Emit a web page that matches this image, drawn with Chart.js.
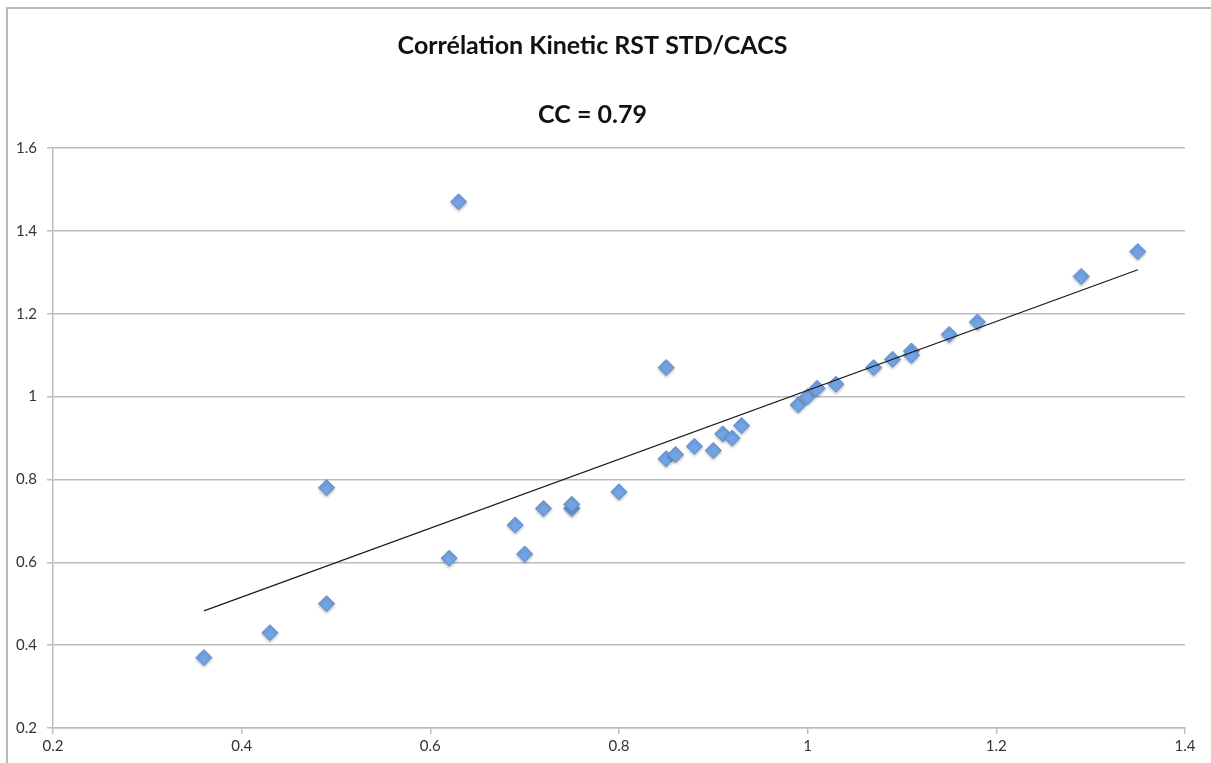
<!DOCTYPE html>
<html lang="fr">
<head>
<meta charset="utf-8">
<title>Corrélation Kinetic RST STD/CACS</title>
<script src="https://cdn.jsdelivr.net/npm/chart.js@4.4.1/dist/chart.umd.min.js"></script>
<style>
  html, body { margin: 0; padding: 0; background: #ffffff; }
  .chart-wrap { position: relative; width: 1211px; height: 763px; overflow: hidden; }
  .chart-frame {
    position: absolute; left: 6px; top: 7px; width: 1300px; height: 900px;
    border-left: 2px solid #b8b8b8; border-top: 2px solid #b8b8b8;
    pointer-events: none;
  }
  #kinetic-chart { position: absolute; left: 0; top: 0; }
</style>
</head>
<body>
<div class="chart-wrap">
  <canvas id="kinetic-chart" width="1211" height="763"></canvas>
  <div class="chart-frame"></div>
</div>
<script>
const TITLE = 'Corrélation Kinetic RST STD/CACS';
const SUBTITLE = 'CC = 0.79';

// valeurs (x = Kinetic RST STD, y = CACS)
const kineticValues = [
  0.36, 0.43, 0.49, 0.49, 0.62, 0.63, 0.69, 0.70, 0.72, 0.75, 0.75,
  0.80, 0.85, 0.85, 0.86, 0.88, 0.90, 0.91, 0.92, 0.93, 0.99, 1.00,
  1.01, 1.03, 1.07, 1.09, 1.11, 1.11, 1.15, 1.18, 1.29, 1.35
];
const cacsValues = [
  0.37, 0.43, 0.78, 0.50, 0.61, 1.47, 0.69, 0.62, 0.73, 0.73, 0.74,
  0.77, 1.07, 0.85, 0.86, 0.88, 0.87, 0.91, 0.90, 0.93, 0.98, 1.00,
  1.02, 1.03, 1.07, 1.09, 1.11, 1.10, 1.15, 1.18, 1.29, 1.35
];

const xTicks = { min: 0.2, max: 1.4, step: 0.2 };
const yTicks = { min: 0.2, max: 1.6, step: 0.2 };

const gridColor = '#bdbdbd';
const labelColor = '#333333';
const fontFamily = 'Lato, "Open Sans", "DejaVu Sans", sans-serif';

function buildPoints(xs, ys) {
  return xs.map((x, i) => ({ x, y: ys[i] }));
}

function formatTick(value) {
  // Excel écrit "1" et non "1.0"
  return String(Number(value.toFixed(1)));
}

function linearTrend(xs, ys) {
  // droite des moindres carrés, tracée du plus petit au plus grand x (comme la courbe de tendance Excel)
  const n = xs.length;
  const mx = xs.reduce((a, b) => a + b, 0) / n;
  const my = ys.reduce((a, b) => a + b, 0) / n;
  let sxy = 0;
  let sxx = 0;
  for (let i = 0; i < n; i++) {
    sxy += (xs[i] - mx) * (ys[i] - my);
    sxx += (xs[i] - mx) * (xs[i] - mx);
  }
  const slope = sxy / sxx;
  const intercept = my - slope * mx;
  const x0 = Math.min(...xs);
  const x1 = Math.max(...xs);
  return [
    { x: x0, y: intercept + slope * x0 },
    { x: x1, y: intercept + slope * x1 }
  ];
}

// ombre légère sous les losanges
const markerShadow = {
  id: 'markerShadow',
  beforeDatasetDraw(chart, args) {
    if (args.index !== 1) return;
    const ctx = chart.ctx;
    ctx.save();
    ctx.shadowColor = 'rgba(0, 0, 0, 0.25)';
    ctx.shadowBlur = 3;
    ctx.shadowOffsetX = 0;
    ctx.shadowOffsetY = 1.5;
  },
  afterDatasetDraw(chart, args) {
    if (args.index !== 1) return;
    chart.ctx.restore();
  }
};

function renderChart() {
  const canvas = document.getElementById('kinetic-chart');
  if (!canvas || typeof Chart === 'undefined') return;

  new Chart(canvas, {
    type: 'scatter',
    data: {
      datasets: [
        {
          type: 'line',
          label: 'Tendance',
          data: linearTrend(kineticValues, cacsValues),
          borderColor: '#1a1a1a',
          borderWidth: 1.2,
          pointRadius: 0,
          fill: false,
          order: 0
        },
        {
          label: 'CACS',
          data: buildPoints(kineticValues, cacsValues),
          pointStyle: 'rectRot',
          pointRadius: 8,
          backgroundColor: '#73a3e4',
          borderColor: '#5b8cd3',
          borderWidth: 1,
          order: 1
        }
      ]
    },
    options: {
      responsive: false,
      animation: false,
      layout: { padding: { left: 0, right: 26, top: 0, bottom: 0 } },
      plugins: {
        legend: { display: false },
        tooltip: { enabled: false },
        title: {
          display: true,
          text: TITLE,
          color: '#111111',
          font: { family: fontFamily, size: 25, weight: 'bold', lineHeight: 1.2 },
          padding: { top: 31, bottom: 0 }
        },
        subtitle: {
          display: true,
          text: SUBTITLE,
          color: '#111111',
          font: { family: fontFamily, size: 25, weight: 'bold', lineHeight: 1.2 },
          padding: { top: 39, bottom: 18 }
        }
      },
      scales: {
        x: {
          type: 'linear',
          min: xTicks.min,
          max: xTicks.max,
          afterFit: (scale) => { scale.height = 35; },
          ticks: {
            stepSize: xTicks.step,
            callback: formatTick,
            color: labelColor,
            font: { family: fontFamily, size: 15 },
            padding: 3,
            maxRotation: 0
          },
          grid: {
            drawOnChartArea: false,
            drawTicks: true,
            tickLength: 6,
            color: gridColor,
            lineWidth: 1.5
          },
          border: { display: true, color: gridColor, width: 1.5 }
        },
        y: {
          type: 'linear',
          min: yTicks.min,
          max: yTicks.max,
          afterFit: (scale) => { scale.width = 53; },
          ticks: {
            stepSize: yTicks.step,
            callback: formatTick,
            color: labelColor,
            font: { family: fontFamily, size: 15 },
            padding: 10
          },
          grid: {
            drawOnChartArea: true,
            drawTicks: true,
            tickLength: 6,
            color: gridColor,
            lineWidth: 1.5
          },
          border: { display: true, color: gridColor, width: 1.5 }
        }
      }
    },
    plugins: [markerShadow]
  });
}

renderChart();
</script>
</body>
</html>
